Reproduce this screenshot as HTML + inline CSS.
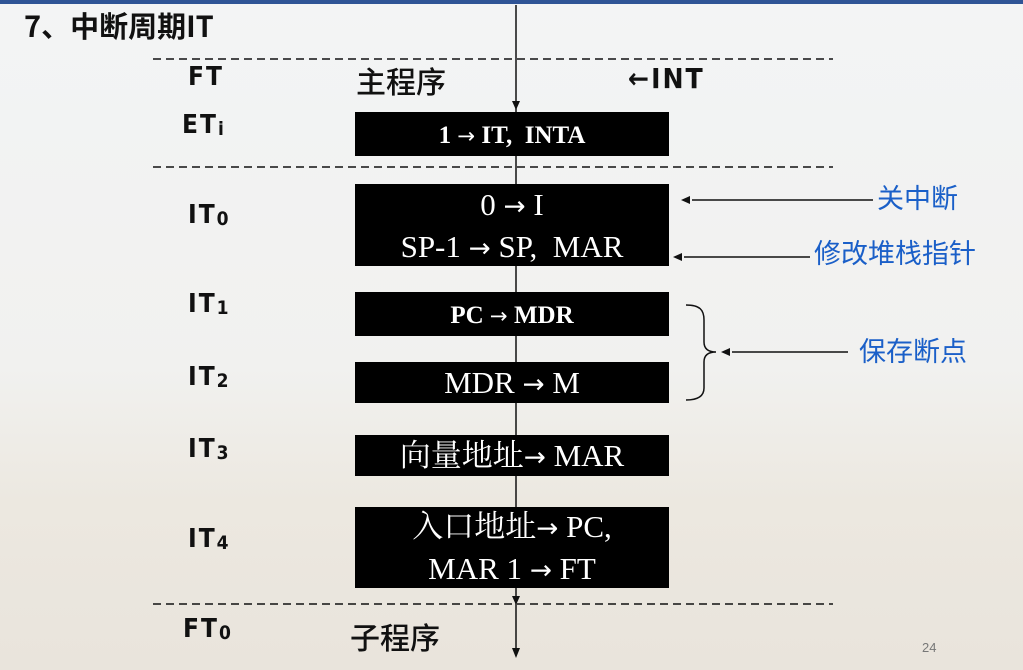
<!DOCTYPE html>
<html><head><meta charset="utf-8"><style>
body{margin:0}
#c{position:relative;width:1023px;height:670px;overflow:hidden;background:linear-gradient(180deg,#f3f4f5 0%,#f1f1ef 55%,#ece8e0 75%,#e9e4dc 100%);font-family:"Liberation Sans","Noto Sans CJK SC",sans-serif}
.t{position:absolute;white-space:nowrap}
.l{font-family:"DejaVu Sans Condensed","Liberation Sans",sans-serif;font-weight:bold;font-size:26px;color:#111;letter-spacing:2px}
.l sub{font-size:19px;vertical-align:-2px;font-weight:bold}
.box{position:absolute;left:355px;width:314px;background:#000;color:#fff;font-family:"Liberation Serif","Noto Serif CJK SC",serif;text-align:center;font-size:31px;line-height:39px;display:flex;flex-direction:column;justify-content:center;padding-top:3px;box-sizing:border-box}
.a{font-family:"DejaVu Sans",sans-serif;font-weight:normal;font-size:0.85em}
.b{color:#1a5fc8;font-size:27px;font-family:"Noto Sans CJK SC",sans-serif}
.h{font-size:30px;font-family:'Noto Sans CJK SC',sans-serif;color:#111;font-weight:500}
</style></head><body><div id="c">
<div style="position:absolute;left:0;top:0;width:1023px;height:4px;background:#2f5496"></div>
<div class="t" style="left:24px;top:4px;font-size:29px;font-weight:bold;font-family:'Noto Sans CJK SC',sans-serif;color:#111">7、中断周期IT</div>
<svg width="1023" height="670" style="position:absolute;left:0;top:0">
<g stroke="#111" stroke-width="1.5" stroke-dasharray="8,5">
<line x1="153" y1="59" x2="833" y2="59"/><line x1="153" y1="167" x2="833" y2="167"/><line x1="153" y1="604" x2="833" y2="604"/></g>
<line x1="516" y1="5" x2="516" y2="655" stroke="#111" stroke-width="1.5"/>
<path d="M512 101 L516 110 L520 101Z M512 596 L516 605 L520 596Z M512 648 L516 658 L520 648Z" fill="#111"/>
<g stroke="#111" stroke-width="1.5" fill="none">
<line x1="873" y1="200" x2="692" y2="200"/><line x1="810" y1="257" x2="684" y2="257"/><line x1="848" y1="352" x2="732" y2="352"/>
<path d="M686 305 C700 305 704 310 704 320 L704 342 C704 350 710 352 716 352 C710 352 704 354 704 362 L704 388 C704 396 698 400 686 400"/>
</g>
<path d="M690 196 L681 200 L690 204Z M682 253 L673 257 L682 261Z M730 348 L721 352 L730 356Z" fill="#111"/>
</svg>
<div class="t l" style="left:188px;top:62px">FT</div>
<div class="t h" style="left:356px;top:58px">主程序</div>
<div class="t l" style="left:628px;top:62px;font-size:28px">←INT</div>
<div class="t l" style="left:182px;top:110px">ET<sub>i</sub></div>
<div class="t l" style="left:188px;top:200px">IT<sub>0</sub></div>
<div class="t l" style="left:188px;top:289px">IT<sub>1</sub></div>
<div class="t l" style="left:188px;top:362px">IT<sub>2</sub></div>
<div class="t l" style="left:188px;top:434px">IT<sub>3</sub></div>
<div class="t l" style="left:188px;top:524px">IT<sub>4</sub></div>
<div class="t l" style="left:183px;top:614px">FT<sub>0</sub></div>
<div class="t h" style="left:350px;top:614px">子程序</div>
<div class="box" style="top:112px;height:44px;font-size:25px;font-weight:bold"><div>1 <span class="a">→</span> IT,&nbsp; INTA</div></div>
<div class="box" style="top:184px;height:82px"><div>0 <span class="a">→</span> I</div><div>SP-1 <span class="a">→</span> SP,&nbsp; MAR</div></div>
<div class="box" style="top:292px;height:44px;font-size:25px;font-weight:bold"><div>PC <span class="a">→</span> MDR</div></div>
<div class="box" style="top:362px;height:41px"><div>MDR <span class="a">→</span> M</div></div>
<div class="box" style="top:435px;height:41px"><div>向量地址<span class="a">→</span> MAR</div></div>
<div class="box" style="top:507px;height:81px"><div>入口地址<span class="a">→</span> PC,</div><div>MAR 1 <span class="a">→</span> FT</div></div>
<div class="t b" style="left:877px;top:177px">关中断</div>
<div class="t b" style="left:814px;top:232px">修改堆栈指针</div>
<div class="t b" style="left:859px;top:330px">保存断点</div>
<div class="t" style="left:922px;top:640px;font-size:13px;color:#777">24</div>
</div></body></html>
